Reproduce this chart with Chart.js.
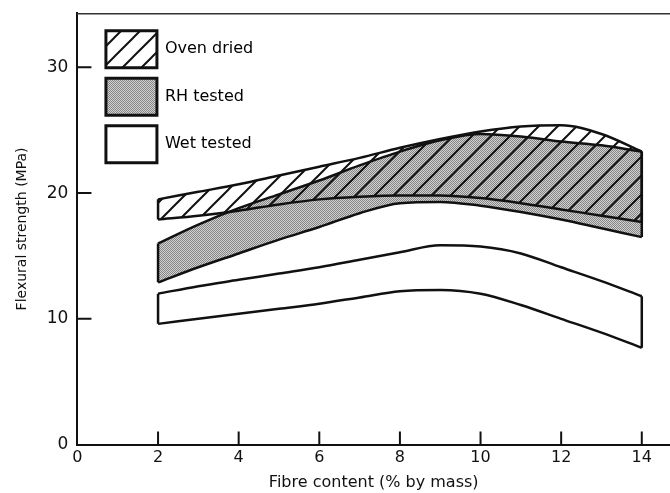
<!DOCTYPE html>
<html>
<head>
<meta charset="utf-8">
<script src="https://cdn.jsdelivr.net/npm/chart.js@4.4.1/dist/chart.umd.min.js"></script>
<style>
html, body { margin:0; padding:0; background:#fff; }
#wrap { width:670px; height:493px; }
</style>
</head>
<body>
<div id="wrap"><canvas id="strength_canvas" width="670" height="493"></canvas></div>
<script>
// values, fibre content in % by mass
var fibre    = [2, 3, 4, 5, 6, 7, 8, 9, 10, 11, 12, 13, 14];
var ovenHigh = [19.5, 20.1, 20.7, 21.4, 22.1, 22.8, 23.6, 24.3, 24.9, 25.3, 25.4, 24.7, 23.3];
var ovenLow  = [17.9, 18.2, 18.6, 19.1, 19.5, 19.7, 19.8, 19.8, 19.6, 19.2, 18.7, 18.2, 17.7];
var rhHigh   = [16.0, 17.5, 18.8, 19.9, 21.0, 22.2, 23.3, 24.2, 24.7, 24.5, 24.1, 23.8, 23.3];
var rhLow    = [12.9, 14.1, 15.2, 16.3, 17.3, 18.4, 19.2, 19.3, 19.0, 18.5, 17.9, 17.2, 16.5];
var wetHigh  = [12.0, 12.6, 13.1, 13.6, 14.1, 14.7, 15.3, 15.85, 15.75, 15.2, 14.1, 13.0, 11.8];
var wetLow   = [9.6, 10.0, 10.4, 10.8, 11.2, 11.7, 12.2, 12.3, 12.0, 11.1, 10.0, 8.9, 7.7];
var xTicks = [0, 2, 4, 6, 8, 10, 12, 14];
var yTicks = [0, 10, 20, 30];
var bandNames = ['Oven dried', 'RH tested', 'Wet tested'];

var ink = '#111';

function makeHatch(){
    var s = 19;
    var c = document.createElement('canvas');
    c.width = s; c.height = s;
    var g = c.getContext('2d');
    g.strokeStyle = ink;
    g.lineWidth = 2;
    g.beginPath();
    g.moveTo(0, s); g.lineTo(s, 0);
    g.moveTo(-2, 2); g.lineTo(2, -2);
    g.moveTo(s - 2, s + 2); g.lineTo(s + 2, s - 2);
    g.stroke();
    return g.createPattern(c, 'repeat');
}
function makeDots(){
    var c = document.createElement('canvas');
    c.width = 2; c.height = 2;
    var g = c.getContext('2d');
    g.fillStyle = '#d2d2d2';
    g.fillRect(0, 0, 2, 2);
    g.fillStyle = '#858585';
    g.fillRect(0, 0, 1, 1);
    g.fillRect(1, 1, 1, 1);
    return g.createPattern(c, 'repeat');
}
var hatch = makeHatch();
var dots = makeDots();

function pts(arr){
    return fibre.map(function(x, i){ return {x: x, y: arr[i]}; });
}
function curve(arr, fill, bg){
    return {
        data: pts(arr),
        borderColor: ink,
        borderWidth: 2.5,
        backgroundColor: bg || 'transparent',
        fill: fill,
        pointRadius: 0,
        cubicInterpolationMode: 'monotone'
    };
}
// closing strokes at both ends of a band
function ends(lo, hi){
    var last = fibre.length - 1;
    return [0, last].map(function(i){
        return {
            data: [{x: fibre[i], y: lo[i]}, {x: fibre[i], y: hi[i]}],
            borderColor: ink,
            borderWidth: 2.5,
            fill: false,
            pointRadius: 0,
            tension: 0
        };
    });
}

var datasets = [
    curve(ovenHigh, '+1', hatch),
    curve(ovenLow, false),
    curve(rhHigh, '+1', dots),
    curve(rhLow, false),
    curve(wetHigh, '+1', '#ffffff'),
    curve(wetLow, false)
].concat(ends(ovenLow, ovenHigh), ends(rhLow, rhHigh), ends(wetLow, wetHigh));

var legendFills = [hatch, dots, '#ffffff'];

// tick marks point into the plot
var innerTicks = {
    id: 'innerTicks',
    afterDatasetsDraw: function(chart){
        var ctx = chart.ctx, a = chart.chartArea;
        var xs = chart.scales.x, ys = chart.scales.y;
        ctx.save();
        ctx.strokeStyle = ink;
        ctx.lineWidth = 2;
        ctx.beginPath();
        xTicks.forEach(function(v){
            if (!v) return;
            var px = xs.getPixelForValue(v);
            ctx.moveTo(px, a.bottom); ctx.lineTo(px, a.bottom - 13);
        });
        yTicks.forEach(function(v){
            if (!v) return;
            var py = ys.getPixelForValue(v);
            ctx.moveTo(a.left, py); ctx.lineTo(a.left + 14, py);
        });
        ctx.stroke();
        ctx.restore();
    }
};

// put the key in the upper left corner of the plot
var keyPlace = {
    id: 'keyPlace',
    afterLayout: function(chart){
        var a = chart.chartArea, lg = chart.legend;
        lg.left = a.left + 18;
        lg.top = a.top + 7;
        lg.right = a.right;
        lg.bottom = a.bottom;
    }
};

Chart.defaults.font.family = "'DejaVu Sans', sans-serif";
Chart.defaults.color = ink;

var ctx = document.getElementById('strength_canvas');
var chart = new Chart(ctx, {
    type: 'line',
    data: { datasets: datasets },
    plugins: [innerTicks, keyPlace],
    options: {
        responsive: false,
        animation: false,
        layout: { padding: { left: 10, top: 13, right: 0, bottom: 0 } },
        plugins: {
            filler: { drawTime: 'beforeDatasetsDraw' },
            tooltip: { enabled: false },
            legend: {
                display: true,
                position: 'chartArea',
                align: 'start',
                onClick: null,
                labels: {
                    boxWidth: 51,
                    boxHeight: 37,
                    padding: 10.5,
                    font: { size: 16 },
                    color: ink,
                    generateLabels: function(){
                        return bandNames.map(function(name, i){
                            return {
                                text: name,
                                fillStyle: legendFills[i],
                                strokeStyle: ink,
                                lineWidth: 3,
                                hidden: false,
                                datasetIndex: i * 2
                            };
                        });
                    }
                }
            }
        },
        scales: {
            x: {
                type: 'linear',
                min: 0,
                max: 14.7,
                grid: { display: false, drawTicks: false },
                border: { display: true, color: ink, width: 2 },
                afterBuildTicks: function(s){ s.ticks = xTicks.map(function(v){ return {value: v}; }); },
                ticks: { padding: 4, font: { size: 16 }, color: ink, maxRotation: 0, autoSkip: false },
                title: { display: true, text: 'Fibre content (% by mass)', font: { size: 16 }, color: ink, padding: { top: 1, bottom: 1 } }
            },
            y: {
                type: 'linear',
                min: 0,
                max: 34.3,
                grid: { display: false, drawTicks: false },
                border: { display: true, color: ink, width: 2 },
                afterBuildTicks: function(s){ s.ticks = yTicks.map(function(v){ return {value: v}; }); },
                ticks: { padding: 9, font: { size: 17, lineHeight: 0.5 }, color: ink },
                title: { display: true, text: 'Flexural strength (MPa)', font: { size: 14 }, color: ink, padding: { top: 4, bottom: 7 } }
            },
            x2: {
                type: 'linear',
                position: 'top',
                min: 0,
                max: 1,
                grid: { display: false, drawTicks: false },
                border: { display: true, color: '#333', width: 1.5 },
                ticks: { display: false }
            }
        }
    }
});
</script>
</body>
</html>
